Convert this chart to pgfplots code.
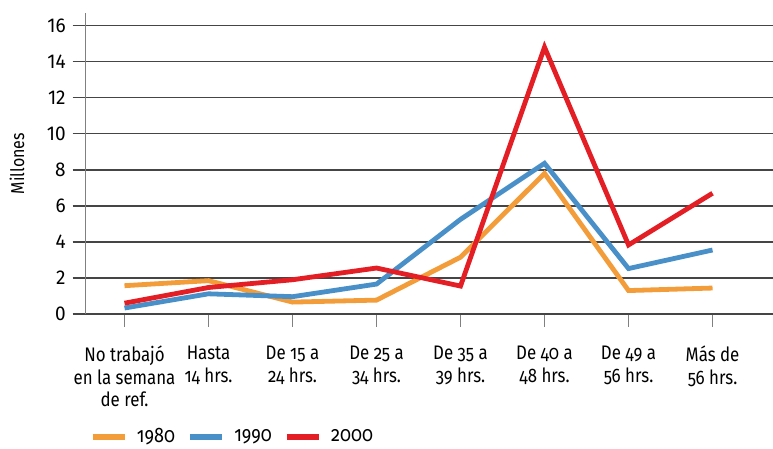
\documentclass[border=0pt]{standalone}
\usepackage{fontspec}
\setmainfont{Fira Sans}[Numbers=OldStyle, FakeStretch=0.86]
\newfontfamily\lining{Fira Sans}[Numbers=Lining, FakeStretch=0.95]
\usepackage{pgfplots}
\pgfplotsset{compat=1.18}
\definecolor{c80}{HTML}{F39C3A}
\definecolor{c90}{HTML}{4A90C8}
\definecolor{c00}{HTML}{E31E24}
\definecolor{gridc}{HTML}{454545}
\begin{document}
\begin{tikzpicture}
\begin{axis}[
  at={(0,0)}, anchor=south west, scale only axis,
  width=343.65pt, height=150.5pt,
  xmin=-0.462, xmax=7.72, ymin=0, ymax=16.7,
  axis y line*=left, axis x line*=bottom,
  y axis line style={-, gray, line width=0.5pt},
  x axis line style={-, gridc, line width=0.7pt},
  ytick={0,2,...,16}, ymajorgrids,
  grid style={gridc, line width=0.7pt},
  xtick={0,...,7},
  xticklabels={No trabajó\\en la semana\\de ref., Hasta\\14 hrs., De 15 a\\24 hrs., De 25 a\\34 hrs., De 35 a\\39 hrs., De 40 a\\48 hrs., De 49 a\\56 hrs., Más de\\56 hrs.},
  tick align=outside,
  y tick style={gridc, line width=0.7pt},
  x tick style={gray, line width=0.6pt},
  major tick length=6.5pt,
  xticklabel style={align=center, font=\fontsize{9.8}{11.3}\selectfont, anchor=north, yshift=-6pt},
  yticklabel style={font=\lining\fontsize{10}{12}\selectfont},
  /pgf/number format/assume math mode=true,
  ylabel={Millones},
  ylabel style={at={(axis description cs:-0.1,0.5)}, anchor=center, font=\fontsize{9.3}{11}\selectfont},
  legend columns=3,
  legend style={draw=none, fill=none, at={(0.005,-0.409)}, anchor=west, inner sep=0pt,
    font=\fontsize{10.5}{12}\selectfont,
    /tikz/every even column/.append style={column sep=4pt}},
  legend image code/.code={\draw[#1, line width=3pt] (0pt,0pt) -- (16pt,0pt); \path (19pt,0pt);},
  every axis plot/.append style={line width=2.4pt},
]
\addplot[c80] coordinates {(0,1.57) (1,1.85) (2,0.66) (3,0.77) (4,3.15) (5,7.8) (6,1.3) (7,1.44)};
\addplot[c90] coordinates {(0,0.33) (1,1.12) (2,0.96) (3,1.66) (4,5.25) (5,8.36) (6,2.52) (7,3.55)};
\addplot[c00] coordinates {(0,0.6) (1,1.47) (2,1.9) (3,2.55) (4,1.55) (5,14.8) (6,3.83) (7,6.7)};
\legend{1980,1990,2000}
\end{axis}
\pgfresetboundingbox
\path (-42.85pt,-67.5pt) rectangle (343.65pt,157pt);
\end{tikzpicture}
\end{document}
